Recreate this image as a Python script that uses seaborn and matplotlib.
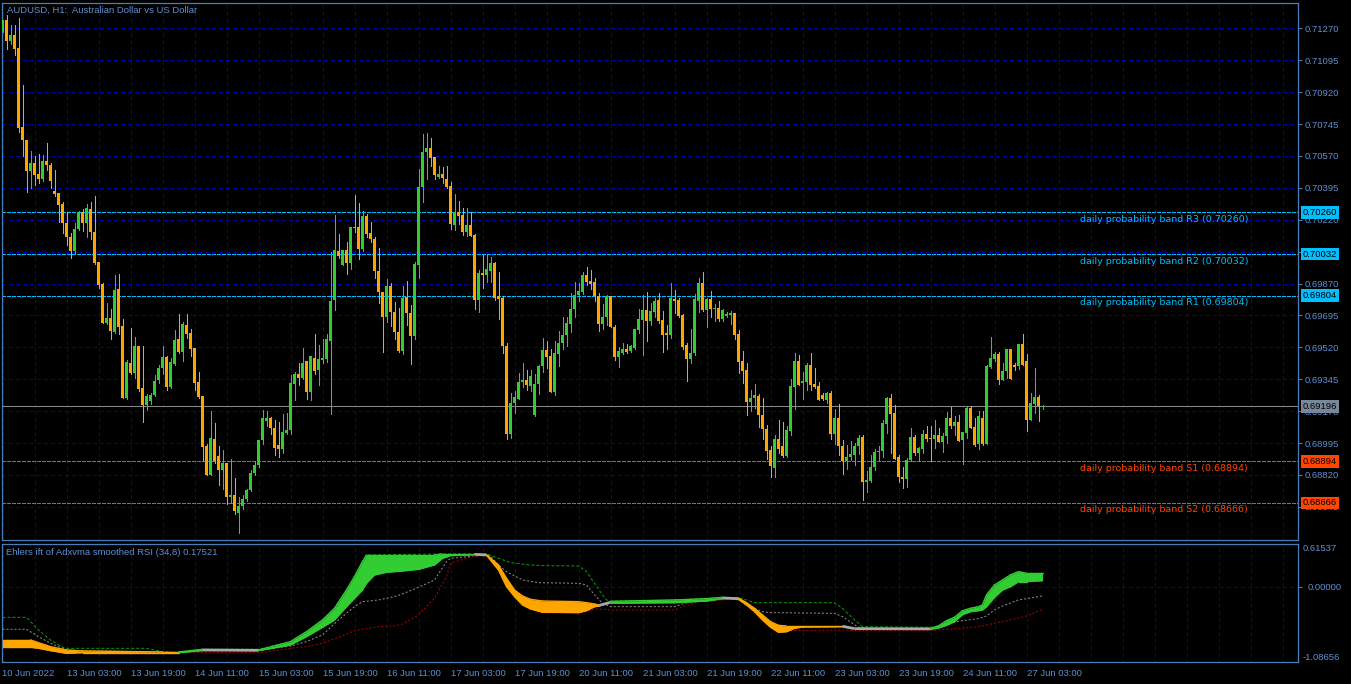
import numpy as np
import pandas as pd
import matplotlib
matplotlib.use('Agg')
import matplotlib.pyplot as plt
import matplotlib.transforms as mtransforms
import seaborn as sns

# AUDUSD H1 candles, first bar 10 Jun 2022 11:00
opens = [
    0.71248, 0.71318, 0.71201, 0.71233, 0.71160, 0.70727, 0.70659, 0.70486, 0.70533, 0.70471,
    0.70445, 0.70542, 0.70520, 0.70377, 0.70367, 0.70307, 0.70204, 0.70128, 0.70047, 0.70170,
    0.70260, 0.70204, 0.70279, 0.70151, 0.69987, 0.69865, 0.69654, 0.69680, 0.69605, 0.69842,
    0.69635, 0.69244, 0.69436, 0.69379, 0.69530, 0.69297, 0.69206, 0.69225, 0.69259, 0.69342,
    0.69404, 0.69466, 0.69300, 0.69428, 0.69564, 0.69492, 0.69643, 0.69598, 0.69517, 0.69329,
    0.69253, 0.68980, 0.68820, 0.69018, 0.68924, 0.68845, 0.68886, 0.68698, 0.68708, 0.68613,
    0.68651, 0.68689, 0.68736, 0.68830, 0.68872, 0.69009, 0.69116, 0.69134, 0.69080, 0.68985,
    0.68960, 0.69052, 0.69065, 0.69318, 0.69372, 0.69354, 0.69444, 0.69277, 0.69464, 0.69396,
    0.69451, 0.69455, 0.69555, 0.69781, 0.70048, 0.69971, 0.70054, 0.69982, 0.70182, 0.70178,
    0.70059, 0.70238, 0.70145, 0.70114, 0.69940, 0.69825, 0.69689, 0.69854, 0.69715, 0.69605,
    0.69501, 0.69794, 0.69711, 0.69583, 0.69973, 0.70398, 0.70590, 0.70612, 0.70563, 0.70453,
    0.70469, 0.70444, 0.70403, 0.70191, 0.70264, 0.70246, 0.70154, 0.70191, 0.70136, 0.69781,
    0.69927, 0.69916, 0.69940, 0.69982, 0.69799, 0.69788, 0.69528, 0.69043, 0.69213, 0.69239,
    0.69330, 0.69341, 0.69308, 0.69150, 0.69318, 0.69418, 0.69504, 0.69473, 0.69276, 0.69482,
    0.69543, 0.69587, 0.69647, 0.69729, 0.69806, 0.69825, 0.69916, 0.69885, 0.69880, 0.69803,
    0.69647, 0.69684, 0.69799, 0.69634, 0.69469, 0.69491, 0.69510, 0.69501, 0.69519, 0.69616,
    0.69671, 0.69726, 0.69665, 0.69715, 0.69779, 0.69669, 0.69598, 0.69587, 0.69784, 0.69779,
    0.69700, 0.69532, 0.69455, 0.69488, 0.69775, 0.69872, 0.69726, 0.69784, 0.69729, 0.69738,
    0.69675, 0.69693, 0.69697, 0.69711, 0.69592, 0.69444, 0.69394, 0.69221, 0.69244, 0.69253,
    0.69147, 0.69074, 0.68957, 0.68860, 0.69015, 0.68980, 0.68925, 0.69062, 0.69300, 0.69447,
    0.69324, 0.69330, 0.69425, 0.69318, 0.69306, 0.69260, 0.69232, 0.69269, 0.69044, 0.69135,
    0.68976, 0.68897, 0.68921, 0.68930, 0.68976, 0.69026, 0.68780, 0.68788, 0.68866, 0.68945,
    0.68952, 0.69099, 0.69242, 0.69159, 0.68916, 0.68811, 0.68798, 0.68903, 0.69026, 0.68940,
    0.68963, 0.69044, 0.69022, 0.69018, 0.69040, 0.69000, 0.69031, 0.69132, 0.69090, 0.69113,
    0.69013, 0.69049, 0.69187, 0.69081, 0.68989, 0.69135, 0.68989, 0.69410, 0.69458, 0.69483,
    0.69342, 0.69388, 0.69513, 0.69425, 0.69415, 0.69538, 0.69447, 0.69123, 0.69209, 0.69245,
    0.69191,
]
highs = [
    0.71318, 0.71342, 0.71286, 0.71286, 0.71329, 0.70960, 0.70659, 0.70599, 0.70571, 0.70580,
    0.70576, 0.70640, 0.70533, 0.70492, 0.70367, 0.70317, 0.70260, 0.70147, 0.70200, 0.70270,
    0.70279, 0.70307, 0.70320, 0.70350, 0.69987, 0.69874, 0.69761, 0.69729, 0.69918, 0.69921,
    0.69677, 0.69451, 0.69624, 0.69579, 0.69530, 0.69526, 0.69263, 0.69272, 0.69366, 0.69423,
    0.69530, 0.69470, 0.69460, 0.69617, 0.69705, 0.69658, 0.69705, 0.69620, 0.69517, 0.69385,
    0.69253, 0.68990, 0.69168, 0.69103, 0.68980, 0.68958, 0.68886, 0.68905, 0.68802, 0.68698,
    0.68708, 0.68745, 0.68849, 0.68896, 0.69014, 0.69178, 0.69171, 0.69140, 0.69120, 0.69110,
    0.69153, 0.69158, 0.69367, 0.69382, 0.69436, 0.69519, 0.69444, 0.69473, 0.69592, 0.69532,
    0.69565, 0.69592, 0.70044, 0.70246, 0.70141, 0.70054, 0.70096, 0.70178, 0.70356, 0.70312,
    0.70270, 0.70251, 0.70205, 0.70123, 0.70063, 0.69825, 0.69894, 0.69872, 0.69766, 0.69738,
    0.69854, 0.69885, 0.69751, 0.69986, 0.70498, 0.70691, 0.70696, 0.70667, 0.70563, 0.70517,
    0.70508, 0.70517, 0.70425, 0.70361, 0.70325, 0.70282, 0.70282, 0.70264, 0.70141, 0.69946,
    0.70026, 0.70032, 0.70013, 0.69990, 0.69931, 0.69803, 0.69543, 0.69268, 0.69279, 0.69378,
    0.69433, 0.69394, 0.69394, 0.69372, 0.69422, 0.69570, 0.69556, 0.69510, 0.69556, 0.69609,
    0.69684, 0.69689, 0.69817, 0.69880, 0.69872, 0.69936, 0.69958, 0.69944, 0.69898, 0.69817,
    0.69757, 0.69806, 0.69803, 0.69642, 0.69524, 0.69546, 0.69537, 0.69532, 0.69623, 0.69733,
    0.69806, 0.69821, 0.69762, 0.69788, 0.69817, 0.69720, 0.69642, 0.69872, 0.69836, 0.69788,
    0.69702, 0.69543, 0.69620, 0.69812, 0.69903, 0.69936, 0.69788, 0.69830, 0.69757, 0.69773,
    0.69733, 0.69715, 0.69720, 0.69711, 0.69616, 0.69501, 0.69433, 0.69286, 0.69317, 0.69263,
    0.69244, 0.69092, 0.68980, 0.69037, 0.69120, 0.69113, 0.69086, 0.69348, 0.69489, 0.69480,
    0.69384, 0.69434, 0.69489, 0.69406, 0.69329, 0.69269, 0.69274, 0.69278, 0.69183, 0.69209,
    0.69013, 0.68985, 0.69004, 0.68995, 0.69040, 0.69037, 0.68839, 0.68930, 0.68963, 0.68976,
    0.69123, 0.69245, 0.69264, 0.69201, 0.68930, 0.68861, 0.68912, 0.69077, 0.69037, 0.68971,
    0.69068, 0.69086, 0.69086, 0.69123, 0.69077, 0.69049, 0.69165, 0.69190, 0.69141, 0.69150,
    0.69058, 0.69190, 0.69196, 0.69135, 0.69172, 0.69172, 0.69425, 0.69575, 0.69494, 0.69494,
    0.69434, 0.69513, 0.69513, 0.69434, 0.69538, 0.69593, 0.69483, 0.69269, 0.69406, 0.69256,
    0.69201,
]
lows = [
    0.71248, 0.71154, 0.71182, 0.71126, 0.70702, 0.70571, 0.70373, 0.70392, 0.70411, 0.70424,
    0.70430, 0.70492, 0.70392, 0.70349, 0.70207, 0.70147, 0.70081, 0.70012, 0.70038, 0.70166,
    0.70156, 0.70128, 0.70113, 0.69978, 0.69846, 0.69654, 0.69648, 0.69564, 0.69598, 0.69592,
    0.69240, 0.69234, 0.69375, 0.69353, 0.69282, 0.69112, 0.69178, 0.69210, 0.69253, 0.69323,
    0.69376, 0.69285, 0.69297, 0.69423, 0.69489, 0.69447, 0.69573, 0.69470, 0.69285, 0.69244,
    0.68896, 0.68820, 0.68820, 0.68886, 0.68764, 0.68745, 0.68660, 0.68664, 0.68604, 0.68500,
    0.68632, 0.68679, 0.68730, 0.68820, 0.68864, 0.68990, 0.69089, 0.69043, 0.68930, 0.68920,
    0.68940, 0.69043, 0.69043, 0.69231, 0.69312, 0.69345, 0.69239, 0.69231, 0.69372, 0.69312,
    0.69433, 0.69440, 0.69153, 0.69726, 0.70008, 0.69971, 0.69922, 0.69949, 0.70151, 0.70004,
    0.70050, 0.70123, 0.70099, 0.69903, 0.69762, 0.69495, 0.69660, 0.69638, 0.69568, 0.69495,
    0.69482, 0.69642, 0.69427, 0.69568, 0.69903, 0.70319, 0.70444, 0.70517, 0.70444, 0.70447,
    0.70422, 0.70392, 0.70169, 0.70165, 0.70196, 0.70136, 0.70132, 0.70129, 0.69733, 0.69715,
    0.69848, 0.69880, 0.69880, 0.69781, 0.69675, 0.69488, 0.69015, 0.69025, 0.69158, 0.69235,
    0.69305, 0.69286, 0.69281, 0.69144, 0.69263, 0.69382, 0.69409, 0.69276, 0.69257, 0.69418,
    0.69510, 0.69528, 0.69605, 0.69684, 0.69775, 0.69812, 0.69861, 0.69839, 0.69775, 0.69611,
    0.69620, 0.69642, 0.69629, 0.69451, 0.69414, 0.69482, 0.69491, 0.69497, 0.69513, 0.69598,
    0.69477, 0.69556, 0.69642, 0.69684, 0.69656, 0.69495, 0.69510, 0.69572, 0.69711, 0.69684,
    0.69510, 0.69336, 0.69433, 0.69477, 0.69715, 0.69720, 0.69634, 0.69689, 0.69665, 0.69665,
    0.69665, 0.69684, 0.69647, 0.69568, 0.69378, 0.69323, 0.69147, 0.69171, 0.69189, 0.69085,
    0.69015, 0.68906, 0.68810, 0.68810, 0.68940, 0.68921, 0.68921, 0.69040, 0.69183, 0.69315,
    0.69238, 0.69287, 0.69287, 0.69296, 0.69232, 0.69232, 0.69214, 0.69018, 0.68989, 0.68930,
    0.68824, 0.68853, 0.68903, 0.68872, 0.68934, 0.68683, 0.68729, 0.68780, 0.68848, 0.68903,
    0.68921, 0.69049, 0.68940, 0.68908, 0.68780, 0.68747, 0.68756, 0.68894, 0.68930, 0.68894,
    0.68940, 0.69007, 0.68894, 0.68967, 0.69000, 0.68945, 0.68995, 0.69077, 0.69037, 0.69004,
    0.68879, 0.69022, 0.69077, 0.68976, 0.68963, 0.68982, 0.68989, 0.69406, 0.69443, 0.69318,
    0.69342, 0.69351, 0.69348, 0.69397, 0.69403, 0.69425, 0.69062, 0.69123, 0.69159, 0.69117,
    0.69183,
]
closes = [
    0.71318, 0.71201, 0.71233, 0.71154, 0.70721, 0.70659, 0.70486, 0.70533, 0.70467, 0.70445,
    0.70542, 0.70518, 0.70435, 0.70362, 0.70302, 0.70200, 0.70125, 0.70047, 0.70170, 0.70260,
    0.70204, 0.70283, 0.70151, 0.69982, 0.69861, 0.69654, 0.69680, 0.69611, 0.69837, 0.69630,
    0.69244, 0.69441, 0.69379, 0.69530, 0.69291, 0.69202, 0.69253, 0.69259, 0.69338, 0.69404,
    0.69466, 0.69300, 0.69438, 0.69560, 0.69492, 0.69649, 0.69592, 0.69511, 0.69323, 0.69248,
    0.68971, 0.68820, 0.69022, 0.68896, 0.68845, 0.68886, 0.68698, 0.68708, 0.68623, 0.68651,
    0.68689, 0.68736, 0.68830, 0.68877, 0.69014, 0.69131, 0.69134, 0.69080, 0.68970, 0.68960,
    0.69056, 0.69065, 0.69323, 0.69372, 0.69354, 0.69436, 0.69277, 0.69470, 0.69391, 0.69455,
    0.69462, 0.69565, 0.69775, 0.70054, 0.70019, 0.70054, 0.69982, 0.70178, 0.70173, 0.70059,
    0.70242, 0.70141, 0.70114, 0.69940, 0.69825, 0.69689, 0.69854, 0.69715, 0.69605, 0.69501,
    0.69788, 0.69708, 0.69583, 0.69977, 0.70398, 0.70590, 0.70612, 0.70561, 0.70466, 0.70469,
    0.70447, 0.70400, 0.70196, 0.70264, 0.70242, 0.70154, 0.70191, 0.70132, 0.69781, 0.69927,
    0.69916, 0.69949, 0.69982, 0.69788, 0.69784, 0.69528, 0.69043, 0.69213, 0.69248, 0.69330,
    0.69339, 0.69314, 0.69363, 0.69318, 0.69418, 0.69504, 0.69469, 0.69276, 0.69488, 0.69546,
    0.69587, 0.69653, 0.69729, 0.69806, 0.69828, 0.69916, 0.69876, 0.69867, 0.69799, 0.69647,
    0.69684, 0.69803, 0.69632, 0.69469, 0.69499, 0.69510, 0.69495, 0.69528, 0.69620, 0.69678,
    0.69726, 0.69665, 0.69720, 0.69775, 0.69664, 0.69587, 0.69587, 0.69788, 0.69773, 0.69693,
    0.69524, 0.69455, 0.69491, 0.69784, 0.69872, 0.69726, 0.69784, 0.69729, 0.69738, 0.69675,
    0.69724, 0.69702, 0.69711, 0.69587, 0.69440, 0.69391, 0.69221, 0.69244, 0.69257, 0.69147,
    0.69074, 0.68951, 0.68870, 0.69015, 0.68964, 0.68925, 0.69068, 0.69306, 0.69443, 0.69315,
    0.69333, 0.69425, 0.69311, 0.69300, 0.69232, 0.69238, 0.69269, 0.69044, 0.69135, 0.68976,
    0.68897, 0.68921, 0.68934, 0.68976, 0.69022, 0.68780, 0.68793, 0.68866, 0.68945, 0.68952,
    0.69104, 0.69242, 0.69154, 0.68908, 0.68806, 0.68798, 0.68903, 0.69026, 0.68940, 0.68967,
    0.69044, 0.69018, 0.69018, 0.69037, 0.69000, 0.69031, 0.69132, 0.69086, 0.69110, 0.69007,
    0.69055, 0.69187, 0.69077, 0.68982, 0.69141, 0.68989, 0.69416, 0.69461, 0.69483, 0.69342,
    0.69392, 0.69513, 0.69348, 0.69412, 0.69538, 0.69425, 0.69123, 0.69214, 0.69245, 0.69196,
    0.69196,
]

time_labels = ['10 Jun 2022', '13 Jun 03:00', '13 Jun 19:00', '14 Jun 11:00', '15 Jun 03:00',
               '15 Jun 19:00', '16 Jun 11:00', '17 Jun 03:00', '17 Jun 19:00', '20 Jun 11:00',
               '21 Jun 03:00', '21 Jun 19:00', '22 Jun 11:00', '23 Jun 03:00', '23 Jun 19:00',
               '24 Jun 11:00', '27 Jun 03:00']
price_ticks = [0.71270, 0.71095, 0.70920, 0.70745, 0.70570, 0.70395, 0.70220, 0.70045,
               0.69870, 0.69695, 0.69520, 0.69345, 0.69170, 0.68995, 0.68820, 0.68645]

band_names = ['R3', 'R2', 'R1', 'S1', 'S2']
band_values = [0.70260, 0.70032, 0.69804, 0.68894, 0.68666]
last_price = 0.69196

# Ehlers ift indicator (sub window)
ind_max, ind_min, ind_last = 0.61537, -1.08656, 0.17521
ift_bars = [0, 7, 9, 12, 16, 20, 40, 44, 50, 64, 72, 76, 80, 83, 86, 88, 90, 91, 93, 96,
            100, 104, 108, 110, 112, 118, 121, 124, 126, 128, 130, 132, 135, 144, 146, 148, 149, 152, 168, 176,
            180, 184, 186, 188, 190, 192, 194, 196, 198, 200, 210, 213, 232, 234, 236, 238, 240, 242, 244, 245,
            246, 248, 250, 252, 254, 256, 260]
ift_top = [-0.766, -0.766, -0.805, -0.862, -0.910, -0.924, -0.938, -0.938, -0.900, -0.910,
           -0.790, -0.647, -0.479, -0.312, -0.049, 0.143, 0.358, 0.454, 0.454, 0.454,
           0.454, 0.454, 0.454, 0.468, 0.468, 0.468, 0.458, 0.310, 0.119, -0.049,
           -0.135, -0.183, -0.207, -0.216, -0.231, -0.250, -0.264, -0.211, -0.192, -0.173,
           -0.154, -0.164, -0.231, -0.312, -0.407, -0.503, -0.556, -0.565, -0.565, -0.565,
           -0.565, -0.594, -0.599, -0.565, -0.489, -0.441, -0.345, -0.312, -0.288, -0.264,
           -0.120, 0.023, 0.095, 0.167, 0.214, 0.190, 0.190]
ift_bot = [-0.871, -0.871, -0.886, -0.919, -0.958, -0.948, -0.948, -0.948, -0.919, -0.919,
           -0.838, -0.718, -0.584, -0.479, -0.288, -0.168, -0.049, 0.047, 0.167, 0.205,
           0.224, 0.248, 0.310, 0.406, 0.444, 0.458, 0.449, 0.238, -0.001, -0.144,
           -0.264, -0.321, -0.369, -0.374, -0.345, -0.288, -0.283, -0.240, -0.231, -0.207,
           -0.173, -0.183, -0.264, -0.360, -0.479, -0.584, -0.656, -0.647, -0.599, -0.580,
           -0.575, -0.613, -0.613, -0.594, -0.556, -0.503, -0.403, -0.360, -0.345, -0.336,
           -0.288, -0.154, -0.049, -0.001, 0.071, 0.071, 0.085]
# slope state of each segment between knots: d = falling, u = rising, f = flat
ift_state = list('dddddddufu' 'uuuuuuuuuu' 'uuuuufdddd' 'ddddddfuuu' 'fddddddddd' 'ffuuuuuuuu' 'uuuuuu')

lvl_up_bars = [0, 6, 9, 12, 15, 16, 36, 40, 44, 50, 64, 72, 76, 80, 83, 86, 88, 90, 91, 110,
               121, 124, 127, 132, 136, 144, 146, 148, 150, 151, 152, 168, 176, 180, 184, 186, 188, 208, 210, 213,
               215, 232, 234, 236, 238, 240, 242, 244, 245, 246, 248, 250, 252, 254, 256, 260]
lvl_up = [-0.441, -0.441, -0.623, -0.766, -0.871, -0.886, -0.886, -0.934, -0.948, -0.900,
          -0.900, -0.790, -0.647, -0.479, -0.312, -0.049, 0.143, 0.358, 0.454, 0.468,
          0.468, 0.406, 0.343, 0.310, 0.300, 0.296, 0.214, 0.047, -0.120, -0.192,
          -0.211, -0.192, -0.173, -0.154, -0.164, -0.192, -0.231, -0.231, -0.312, -0.479,
          -0.575, -0.584, -0.565, -0.489, -0.441, -0.345, -0.312, -0.288, -0.264, -0.120,
          0.023, 0.095, 0.167, 0.214, 0.190, 0.190]
lvl_mid_bars = [0, 6, 9, 12, 16, 20, 40, 44, 50, 64, 66, 72, 76, 80, 84, 88, 90, 94, 98, 100,
                104, 108, 111, 112, 118, 120, 122, 124, 126, 130, 134, 144, 146, 148, 150, 152, 168, 170, 172, 178,
                182, 184, 186, 188, 190, 192, 208, 210, 214, 216, 232, 236, 240, 244, 246, 248, 250, 254, 258, 260]
lvl_mid = [-0.613, -0.613, -0.718, -0.814, -0.910, -0.919, -0.938, -0.943, -0.919, -0.919,
           -0.900, -0.852, -0.790, -0.694, -0.479, -0.288, -0.216, -0.192, -0.144, -0.106,
           -0.010, 0.095, 0.358, 0.406, 0.439, 0.454, 0.439, 0.310, 0.214, 0.095,
           0.056, 0.047, 0.023, -0.120, -0.240, -0.288, -0.288, -0.250, -0.216, -0.192,
           -0.168, -0.192, -0.264, -0.312, -0.360, -0.374, -0.384, -0.431, -0.584, -0.599,
           -0.604, -0.527, -0.489, -0.460, -0.422, -0.336, -0.278, -0.192, -0.154, -0.135]
lvl_dn_bars = [0, 7, 9, 12, 16, 20, 64, 66, 72, 76, 80, 84, 88, 90, 94, 98, 100, 104, 108, 111,
               112, 116, 118, 121, 124, 126, 128, 130, 132, 135, 144, 146, 148, 150, 152, 168, 170, 174, 178, 182,
               184, 186, 188, 190, 192, 194, 196, 198, 210, 214, 232, 236, 240, 244, 246, 248, 252, 256, 258, 260]
lvl_dn = [-0.766, -0.766, -0.805, -0.862, -0.919, -0.948, -0.948, -0.938, -0.886, -0.862,
          -0.814, -0.728, -0.632, -0.613, -0.575, -0.565, -0.537, -0.407, -0.168, 0.143,
          0.334, 0.406, 0.439, 0.449, 0.238, -0.001, -0.144, -0.264, -0.321, -0.369,
          -0.374, -0.360, -0.321, -0.326, -0.336, -0.336, -0.288, -0.216, -0.202, -0.183,
          -0.183, -0.264, -0.360, -0.479, -0.584, -0.656, -0.647, -0.632, -0.623, -0.632,
          -0.632, -0.613, -0.599, -0.575, -0.551, -0.527, -0.479, -0.422, -0.374, -0.326]

# colours
GRID = '#0000b4'
AXC = '#4a7ebb'
TXT = '#5f8fd0'
BULL = '#32cd32'
BEAR = '#ffa500'
R_COL = '#00bfff'
S_COL = '#ff4500'
FS = 6.8
PX = 0.72  # one pixel in points

sns.set_style('dark', {'axes.facecolor': 'black', 'figure.facecolor': 'black'})
plt.rcParams['font.family'] = ['Liberation Sans', 'DejaVu Sans']

W, H = 1351, 684
fig = plt.figure(figsize=(W / 100, H / 100), dpi=100)
ax = fig.add_axes([2 / W, 1 - 540 / H, 1296 / W, 537 / H])
ax2 = fig.add_axes([2 / W, 1 - 662.3 / H, 1296 / W, 118.6 / H], sharex=ax)

# 4 px per bar, bar centres on pixel centres
XLIM = (-0.125, 323.875)
YLIM = (0.68463, 0.71409)

df = pd.DataFrame({'open': opens, 'high': highs, 'low': lows, 'close': closes})
df['bar'] = np.arange(len(df))
df['bull'] = df['close'] > df['open']
colors = np.where(df['bull'], BULL, BEAR)

# grid
grid_x = np.arange(0, 324, 8)
ax.vlines(grid_x, YLIM[0], YLIM[1], colors=GRID, lw=PX, linestyles=(0, (4, 3)),
          zorder=0, antialiased=False)
ax2.vlines(grid_x, -1.2, 0.7, colors=GRID, lw=PX, linestyles=(0, (4, 3)),
           zorder=0, antialiased=False)
ax.hlines(price_ticks, XLIM[0], XLIM[1], colors=GRID, lw=PX, linestyles=(0, (4, 3)),
          zorder=0, antialiased=False)
ax2.hlines([0], XLIM[0], XLIM[1], colors=GRID, lw=PX, linestyles=(0, (4, 3)),
           zorder=0, antialiased=False)

# candles
ax.vlines(df['bar'], df['low'], df['high'], colors=colors, lw=PX, zorder=3, antialiased=False)
body_lo = np.minimum(df['open'], df['close'])
body_h = np.maximum((df['close'] - df['open']).abs(), 0.00005)
ax.bar(df['bar'], body_h, bottom=body_lo, width=0.75, color=colors, lw=0, zorder=4, antialiased=False)

# probability bands
blend = mtransforms.blended_transform_factory(ax.transAxes, ax.transData)
for name, val in zip(band_names, band_values):
    col = R_COL if name.startswith('R') else S_COL
    ax.axhline(val, color=col, lw=PX, dashes=(4, 2), zorder=2, antialiased=False)
    ax.annotate(f'daily probability band {name} ({val:.5f})', xy=(1, val), xycoords=blend,
                xytext=(-50 * PX, -7 * PX), textcoords='offset points', ha='right', va='center',
                color=col, fontsize=FS, family='DejaVu Sans', annotation_clip=False)
    ax.annotate(f'{val:.5f}', xy=(1, val), xycoords=blend, xytext=(4.5 * PX, 0),
                textcoords='offset points', ha='left', va='center', color='black', fontsize=FS,
                bbox=dict(boxstyle='square,pad=0.2', fc=col, ec='none'),
                annotation_clip=False, zorder=10)

ax.axhline(last_price, color='#8a8a8a', lw=PX, zorder=2, antialiased=False)
ax.annotate(f'{last_price:.5f}', xy=(1, last_price), xycoords=blend, xytext=(4.5 * PX, 0),
            textcoords='offset points', ha='left', va='center', color='black', fontsize=FS,
            bbox=dict(boxstyle='square,pad=0.2', fc='#778899', ec='none'),
            annotation_clip=False, zorder=10)

ax.set_xlim(*XLIM)
ax.set_ylim(*YLIM)
ax.yaxis.tick_right()
ax.set_yticks(price_ticks)
ax.set_yticklabels([f'{p:.5f}' for p in price_ticks])
ax.tick_params(axis='y', colors=AXC, labelcolor=TXT, length=3, width=PX, pad=1.5, labelsize=FS)
ax.tick_params(axis='x', bottom=False, labelbottom=False)
ax.text(5 / 1296, 1 - 7 / 537, 'AUDUSD, H1:  Australian Dollar vs US Dollar', transform=ax.transAxes,
        ha='left', va='center', color=TXT, fontsize=FS)

# indicator band
for i, st in enumerate(ift_state):
    xs = ift_bars[i:i + 2]
    top = ift_top[i:i + 2]
    bot = ift_bot[i:i + 2]
    if st == 'f':
        mid = [(t + b) / 2 for t, b in zip(top, bot)]
        ax2.plot(xs, mid, color='#a9a9a9', lw=2.0, solid_capstyle='butt', zorder=4)
    else:
        col = BULL if st == 'u' else BEAR
        ax2.fill_between(xs, bot, top, color=col, lw=0, zorder=4)
        ax2.plot(xs, top, color=col, lw=1.0, zorder=4)
        ax2.plot(xs, bot, color=col, lw=1.0, zorder=4)

for bars, vals, col, dash in [(lvl_up_bars, lvl_up, '#00a000', (3, 2)),
                              (lvl_mid_bars, lvl_mid, '#909090', (2, 2)),
                              (lvl_dn_bars, lvl_dn, '#b00000', (2, 2))]:
    sns.lineplot(x=bars, y=vals, ax=ax2, color=col, lw=PX, zorder=3)
    ax2.lines[-1].set_dashes(dash)

ax2.set_xlabel('')
ax2.set_ylabel('')
ax2.set_ylim(ind_min, ind_max)
ax2.set_xlim(*XLIM)
ax2.set_xticks(np.arange(0, 257, 16))
ax2.set_xticklabels(time_labels)
for lbl in ax2.get_xticklabels():
    lbl.set_ha('left')
ax2.tick_params(axis='x', colors=AXC, labelcolor=TXT, length=3, width=PX, pad=1.5, labelsize=FS)
ax2.yaxis.tick_right()
ax2.set_yticks([0])
ax2.set_yticklabels(['0.00000'])
ax2.tick_params(axis='y', colors=AXC, labelcolor=TXT, length=3, width=PX, pad=4, labelsize=FS)
blend2 = mtransforms.blended_transform_factory(ax2.transAxes, ax2.transData)
ax2.annotate(f'{ind_max:.5f}', xy=(1, ind_max), xycoords=blend2, xytext=(5 * PX, -4.5 * PX),
             textcoords='offset points', ha='left', va='center', color=TXT, fontsize=FS,
             annotation_clip=False)
ax2.annotate(f'{ind_min:.5f}', xy=(1, ind_min), xycoords=blend2, xytext=(5 * PX, 4.5 * PX),
             textcoords='offset points', ha='left', va='center', color=TXT, fontsize=FS,
             annotation_clip=False)
ax2.text(4 / 1296, 1 - 9 / 118.6, f'Ehlers ift of Adxvma smoothed RSI (34,8) {ind_last:.5f}',
         transform=ax2.transAxes, ha='left', va='center', color=TXT, fontsize=FS)

for a in (ax, ax2):
    a.set_facecolor('black')
    for s in a.spines.values():
        s.set_visible(True)
        s.set_color(AXC)
        s.set_linewidth(0.9)

fig.savefig('out.png', dpi=100, facecolor='black')
